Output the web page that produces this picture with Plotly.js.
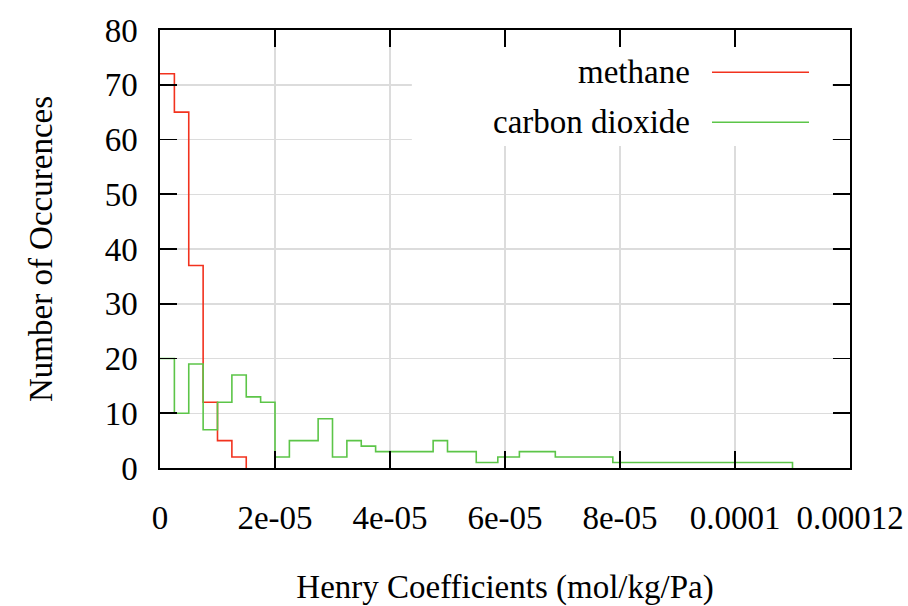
<!DOCTYPE html>
<html>
<head>
<meta charset="utf-8">
<script src="https://cdn.plot.ly/plotly-3.0.1.min.js"></script>
<style>html,body{margin:0;padding:0;background:#fff;}#chart{width:908px;height:606px;}</style>
</head>
<body>
<div id="chart"></div>
<script>
// Series names
const seriesNames = ['methane', 'carbon dioxide'];

// Methane histogram: bin edges and counts
const methaneEdges = [0, 2.5e-6, 5e-6, 7.5e-6, 1e-5, 1.25e-5, 1.5e-5];
const methaneCounts = [72, 65, 37, 12, 5, 2];

// Carbon dioxide histogram: bin edges and counts
const co2Edges = [0, 2.5e-6, 5e-6, 7.5e-6, 1e-5, 1.25e-5, 1.5e-5, 1.75e-5, 2e-5, 2.25e-5,
                  2.75e-5, 3e-5, 3.25e-5, 3.5e-5, 3.75e-5, 4.75e-5, 5e-5, 5.5e-5,
                  5.875e-5, 6.25e-5, 6.875e-5, 7.875e-5, 1.1e-4];
const co2Counts = [20, 10, 19, 7, 12, 17, 13, 12, 2, 5, 9, 2, 5, 4, 3, 5, 3, 1, 2, 3, 2, 1];

// Axis ticks
const xTickVals = [0, 2e-5, 4e-5, 6e-5, 8e-5, 1e-4, 1.2e-4];
const xTickText = ['0', '2e-05', '4e-05', '6e-05', '8e-05', '0.0001', '0.00012'];
const yTickVals = [0, 10, 20, 30, 40, 50, 60, 70, 80];

const colors = ['#f2321e', '#5cc548'];
const FONT = 'Liberation Serif, Times New Roman, serif';
const FS = 33;

function stepTrace(edges, counts, name, color) {
  return {
    x: edges,
    y: counts.concat([0]),
    type: 'scatter',
    mode: 'lines',
    line: {shape: 'hv', color: color, width: 1.6},
    name: name,
    showlegend: false,
    hoverinfo: 'x+y'
  };
}

const data = [
  stepTrace(methaneEdges, methaneCounts, seriesNames[0], colors[0]),
  stepTrace(co2Edges, co2Counts, seriesNames[1], colors[1])
];

const axisCommon = {
  showline: true, linecolor: '#000', linewidth: 1.6, mirror: 'ticks',
  ticks: 'inside', ticklen: 17, tickwidth: 1.6, tickcolor: '#000',
  showgrid: true, gridcolor: '#dcdcdc', gridwidth: 1.5, zeroline: false,
  tickfont: {family: FONT, size: FS, color: '#000'}
};

const layout = {
  width: 908, height: 606,
  margin: {l: 160, r: 58, t: 30, b: 138},
  paper_bgcolor: '#fff', plot_bgcolor: '#fff',
  font: {family: FONT, size: FS, color: '#000'},
  xaxis: Object.assign({}, axisCommon, {
    range: [0, 1.2e-4], tickmode: 'array', tickvals: xTickVals, ticktext: xTickText,
    ticklabelstandoff: 20,
    title: {text: 'Henry Coefficients (mol/kg/Pa)', font: {family: FONT, size: FS, color: '#000'}, standoff: 48}
  }),
  yaxis: Object.assign({}, axisCommon, {
    range: [0, 80], tickmode: 'array', tickvals: yTickVals,
    ticklabelstandoff: 14,
    title: {text: 'Number of Occurences', font: {family: FONT, size: FS, color: '#000'}, standoff: 42}
  }),
  shapes: [
    {type: 'rect', xref: 'paper', yref: 'paper', x0: 0.365, x1: 0.974, y0: 0.735, y1: 0.961,
     fillcolor: '#fff', line: {width: 0}, layer: 'above'},
    {type: 'line', xref: 'paper', yref: 'paper', x0: 0.800, x1: 0.9406, y0: 0.9034, y1: 0.9034,
     line: {color: colors[0], width: 1.6}, layer: 'above'},
    {type: 'line', xref: 'paper', yref: 'paper', x0: 0.800, x1: 0.9406, y0: 0.7893, y1: 0.7893,
     line: {color: colors[1], width: 1.6}, layer: 'above'}
  ],
  annotations: [
    {xref: 'paper', yref: 'paper', x: 0.771, y: 0.9034, xanchor: 'right', yanchor: 'middle',
     text: seriesNames[0], showarrow: false, font: {family: FONT, size: FS, color: '#000'}},
    {xref: 'paper', yref: 'paper', x: 0.771, y: 0.7893, xanchor: 'right', yanchor: 'middle',
     text: seriesNames[1], showarrow: false, font: {family: FONT, size: FS, color: '#000'}}
  ]
};

Plotly.newPlot('chart', data, layout, {displayModeBar: false, staticPlot: true});
</script>
</body>
</html>
